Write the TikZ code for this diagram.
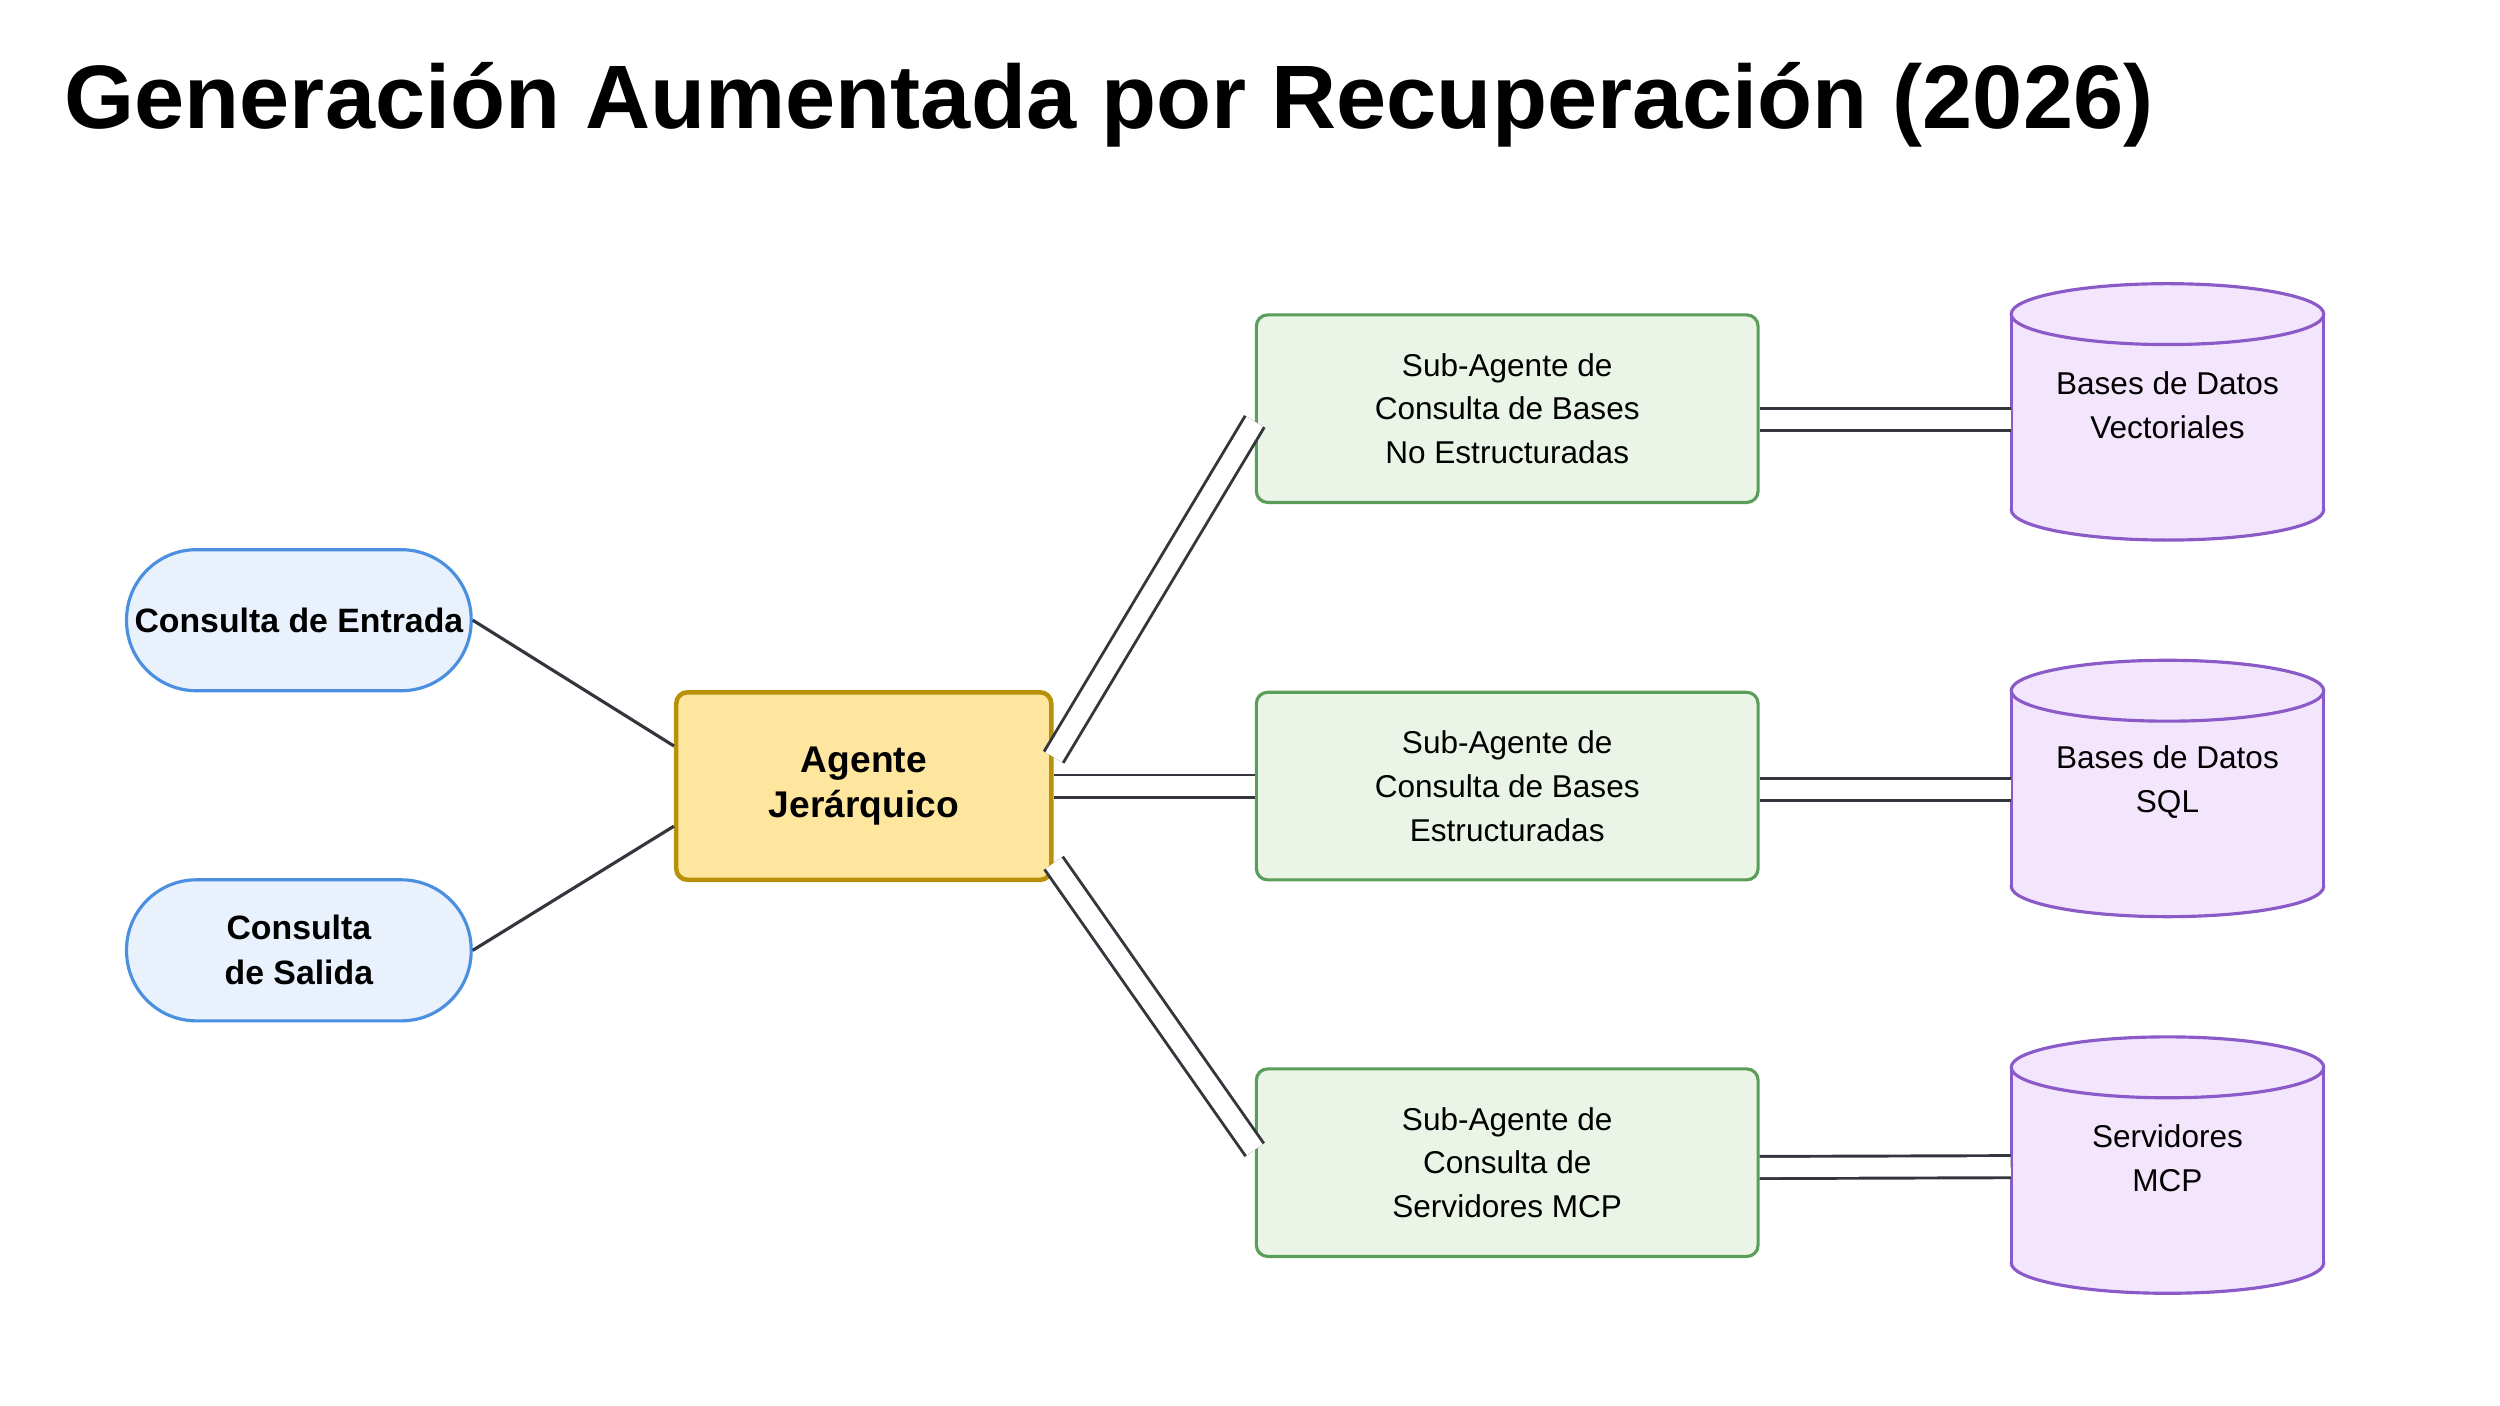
\documentclass[tikz,border=0pt]{standalone}
\usepackage{fontspec}
\setmainfont{Liberation Sans}
\usetikzlibrary{calc}
\definecolor{edgec}{HTML}{33363D}
\definecolor{qfill}{HTML}{E8F1FC}\definecolor{qdraw}{HTML}{4A8FE0}
\definecolor{afill}{HTML}{FFE69E}\definecolor{adraw}{HTML}{B8900A}
\definecolor{sfill}{HTML}{EAF5E8}\definecolor{sdraw}{HTML}{5A9E5A}
\definecolor{dfill}{HTML}{F2E5FC}\definecolor{ddraw}{HTML}{8A5BC8}
\tikzset{
 qbox/.style={draw=qdraw,fill=qfill,line width=1.4pt,rounded corners=31pt,minimum width=5.375cm,minimum height=2.2cm,align=center,font=\fontsize{15}{20}\selectfont\bfseries,inner sep=0pt},
 abox/.style={draw=adraw,fill=afill,line width=2pt,rounded corners=5pt,minimum width=5.85cm,minimum height=2.925cm,align=center,font=\fontsize{16.5}{20}\selectfont\bfseries},
 sbox/.style={draw=sdraw,fill=sfill,line width=1.4pt,rounded corners=5pt,minimum width=7.825cm,minimum height=2.925cm,align=center,font=\fontsize{14}{19.5}\selectfont},
 dtext/.style={minimum width=4.875cm,minimum height=2.95cm,align=center,font=\fontsize{14}{19.5}\selectfont},
 edge/.style={draw=edgec,line width=1.4pt},
 dbl/.style={draw=edgec,line width=1.3pt,double=white,double distance=8.5pt},
 cylline/.style={draw=ddraw,line width=1.4pt},
}
\begin{document}
\begin{tikzpicture}[x=0.025cm,y=-0.025cm]
\useasboundingbox (0,0) rectangle (1560,877);
\node[anchor=base west,inner sep=0pt,font=\fontsize{40}{44}\selectfont\bfseries] (title) at (40,80) {Generación Aumentada por Recuperación (2026)};
\node[qbox] (in) at (186.5,387) {Consulta de Entrada};
\node[qbox] (out) at (186.5,593) {Consulta\\de Salida};
\node[abox] (ag) at (539,490.5) {Agente\\Jerárquico};
\node[sbox] (s1) at (940.5,255) {Sub-Agente de\\Consulta de Bases\\No Estructuradas};
\node[sbox] (s2) at (940.5,490.5) {Sub-Agente de\\Consulta de Bases\\Estructuradas};
\node[sbox] (s3) at (940.5,725.5) {Sub-Agente de\\Consulta de\\Servidores MCP};
\foreach \c in {255,490,725}{
 \filldraw[fill=dfill,cylline] (1352.5,\c+63) ellipse (97.5 and 19);
 \fill[dfill] (1255,\c-59) rectangle (1450,\c+63);
 \draw[cylline] (1255,\c-59) -- (1255,\c+63) (1450,\c-59) -- (1450,\c+63);
 \filldraw[fill=dfill,cylline] (1352.5,\c-59) ellipse (97.5 and 19);
}
\node[dtext] (d1) at (1352.5,253) {Bases de Datos\\Vectoriales};
\node[dtext] (d2) at (1352.5,488) {Bases de Datos\\SQL};
\node[dtext] (d3) at (1352.5,723) {Servidores\\MCP};
\draw[edge] (in.east) -- ($(ag.west)+(0,-25)$);
\draw[edge] (out.east) -- ($(ag.west)+(0,25)$);
\draw[dbl] ($(ag.east)+(0,-18)$) -- ($(s1.west)+(0,8)$);
\draw[dbl] (ag.east) -- (s2.west);
\draw[dbl] ($(ag.east)+(0,48)$) -- ($(s3.west)+(0,-8)$);
\draw[dbl] ($(s1.east)+(0,7)$) -- ($(d1.west)+(0,9)$);
\draw[dbl] ($(s2.east)+(0,2)$) -- ($(d2.west)+(0,4.5)$);
\draw[dbl] ($(s3.east)+(0,3)$) -- ($(d3.west)+(0,5)$);
\end{tikzpicture}
\end{document}
